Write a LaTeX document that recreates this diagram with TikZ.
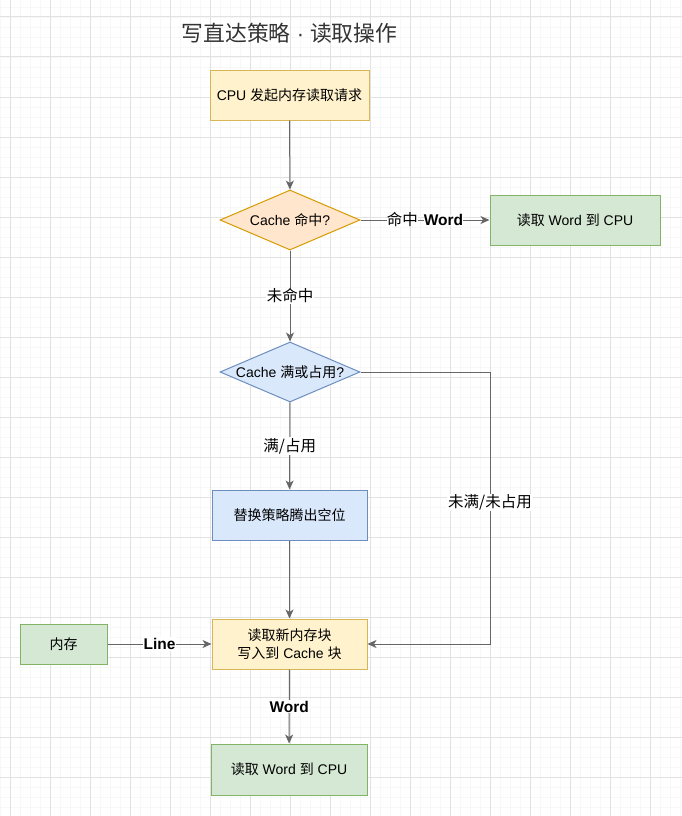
\documentclass[tikz,border=0pt]{standalone}
\usepackage{fontspec}
\setmainfont{Liberation Sans}
\newfontfamily\zh{Noto Sans CJK SC}
\usepackage{tikz}
\usetikzlibrary{arrows.meta,positioning,shapes.geometric}
\definecolor{yfill}{HTML}{FFF2CC}
\definecolor{ydraw}{HTML}{D6B656}
\definecolor{ofill}{HTML}{FFE6CC}
\definecolor{odraw}{HTML}{D79B00}
\definecolor{bfill}{HTML}{DAE8FC}
\definecolor{bdraw}{HTML}{6C8EBF}
\definecolor{gfill}{HTML}{D5E8D4}
\definecolor{gdraw}{HTML}{82B366}
\definecolor{edgegray}{HTML}{666666}
\definecolor{titlegray}{HTML}{333333}
\definecolor{gridmin}{HTML}{F7F7F7}
\definecolor{gridmaj}{HTML}{E2E2E2}
\tikzset{
  box/.style={rectangle, draw, line width=1pt, inner sep=0pt, align=center,
    font=\fontsize{14}{18}\selectfont},
  decision/.style={diamond, draw, line width=1pt, inner sep=0pt,
    minimum width=140pt, minimum height=60pt, font=\fontsize{14}{18}\selectfont},
  flow/.style={-{Stealth[length=9pt,width=8pt,inset=2.5pt]}, edgegray, line width=1pt},
  lbl/.style={fill=white, inner sep=1pt, text=black, font=\fontsize{15.5}{18}\selectfont},
}

\begin{document}
\begin{tikzpicture}[x=1pt, y=-1pt]
\useasboundingbox (0,0) rectangle (682,816);
%%%%% Grid %%%%%
\foreach \x in {0,10,...,680}{
\draw[gridmin, line width=0.8pt] (\x,0)--(\x,816);
}
\foreach \y in {7,17,...,807}{
\draw[gridmin, line width=0.8pt] (0,\y)--(682,\y);
}
\foreach \x in {10,50,...,650}{
\draw[gridmaj, line width=1pt] (\x,0)--(\x,816);
}
\foreach \y in {17,57,...,777}{
\draw[gridmaj, line width=1pt] (0,\y)--(682,\y);
}
%%%%% Nodes %%%%%
\node[text=titlegray, font=\fontsize{21.8}{26}\selectfont] (title) at (289.5,33) {{\zh 写直达策略} · {\zh 读取操作}};
\node[box, fill=yfill, draw=ydraw, minimum width=159pt, minimum height=50pt] (req) at (289.5,95) {CPU {\zh 发起内存读取请求}};
\node[decision, fill=ofill, draw=odraw] (hit) at (290,220) {\makebox[0pt]{Cache {\zh 命中}?}};
\node[box, fill=gfill, draw=gdraw, minimum width=170pt, minimum height=50pt] (hitcpu) at (575,220) {{\zh 读取} Word {\zh 到} CPU};
\node[decision, fill=bfill, draw=bdraw] (full) at (290,372) {\makebox[0pt]{Cache {\zh 满或占用}?}};
\node[box, fill=bfill, draw=bdraw, minimum width=155pt, minimum height=50pt] (evict) at (289.5,515) {{\zh 替换策略腾出空位}};
\node[box, fill=yfill, draw=ydraw, minimum width=155pt, minimum height=50pt] (load) at (289.5,644) {{\zh 读取新内存块}\\{\zh 写入到} Cache {\zh 块}};
\node[box, fill=gfill, draw=gdraw, minimum width=87pt, minimum height=40pt] (mem) at (63.5,644) {{\zh 内存}};
\node[box, fill=gfill, draw=gdraw, minimum width=156pt, minimum height=51pt] (wordcpu) at (289,769.5) {{\zh 读取} Word {\zh 到} CPU};
\coordinate (bend) at (490,644);
%%%%% Edges %%%%%
\fboxsep=0pt
\draw[flow] (req)--(hit);
\draw[flow] (hit)--node[lbl, fill=none]{\colorbox{white}{\zh 命中}\hspace{6pt}\colorbox{white}{\textbf{Word}}} (hitcpu);
\draw[flow] (hit)--node[lbl]{\zh 未命中} (full);
\draw[flow] (full)--node[lbl]{\zh 满/占用} (evict);
\draw[flow] (evict)--(load);
\draw[flow] (full.east) -| node[lbl, pos=0.74]{\zh 未满/未占用} (bend)--(load.east);
\draw[flow] (mem)--node[lbl]{\textbf{Line}} (load);
\draw[flow] (load)--node[lbl]{\textbf{Word}} (wordcpu);
\end{tikzpicture}
\end{document}
